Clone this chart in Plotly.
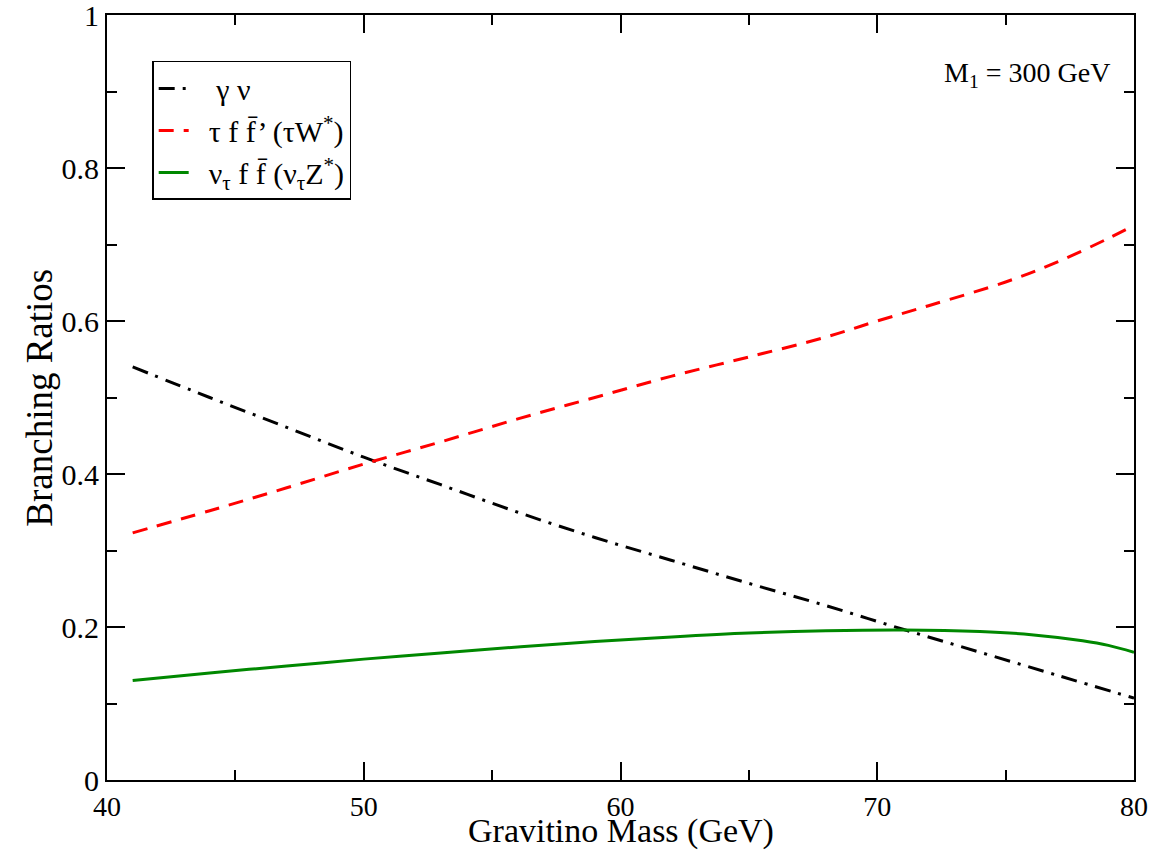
import plotly.graph_objects as go

# Gravitino mass (GeV)
mass_gamma = [41, 44, 47, 50, 53, 56, 59, 62, 65, 68, 71, 74, 77, 80]
br_gamma_nu = [0.540, 0.500, 0.461, 0.422, 0.386, 0.350, 0.317, 0.287, 0.257, 0.228, 0.197, 0.167, 0.137, 0.107]

mass_w = [41, 44, 47, 50, 53, 56, 59, 62, 65, 68, 70, 72, 75, 77, 79, 80]
br_tau_w = [0.323, 0.352, 0.382, 0.413, 0.442, 0.472, 0.500, 0.528, 0.553, 0.579, 0.600, 0.620, 0.651, 0.677, 0.708, 0.725]

mass_z = [41, 44, 47, 50, 53, 56, 59, 62, 65, 68, 71, 74, 76, 78, 79, 80]
br_nu_z = [0.130, 0.140, 0.149, 0.158, 0.166, 0.174, 0.181, 0.187, 0.192, 0.195, 0.196, 0.194, 0.190, 0.182, 0.176, 0.167]

NB = "\u00a0"
names = [
    NB * 3 + "γ ν",
    NB * 2 + "τ f" + NB + "f\u0304’ (τW<sup>*</sup>)",
    NB * 2 + "ν<sub>τ</sub> f" + NB + "f\u0304 (ν<sub>τ</sub>Z<sup>*</sup>)",
]
x_title = "Gravitino Mass (GeV)"
y_title = "Branching Ratios"
note = "M<sub>1</sub> = 300 GeV"

font = "Liberation Serif"
fig = go.Figure()
fig.add_trace(go.Scatter(x=mass_gamma, y=br_gamma_nu, mode="lines", name=names[0],
                         line=dict(color="black", width=3, dash="16px,8px,3px,8px"), line_shape="spline"))
fig.add_trace(go.Scatter(x=mass_w, y=br_tau_w, mode="lines", name=names[1],
                         line=dict(color="#ff0000", width=3, dash="15px,10px"), line_shape="spline"))
fig.add_trace(go.Scatter(x=mass_z, y=br_nu_z, mode="lines", name=names[2],
                         line=dict(color="#008800", width=3), line_shape="spline"))

axis_common = dict(showgrid=False, zeroline=False, showline=True, linecolor="black", linewidth=2,
                   mirror="ticks", ticks="inside", ticklen=18, tickwidth=1.5, tickcolor="black",
                   automargin=False, ticklabeloverflow="allow")

fig.update_xaxes(range=[40, 80], dtick=10, tick0=40,
                 tickfont=dict(family=font, size=28, color="black"),
                 minor=dict(ticks="inside", ticklen=10, dtick=5, tickcolor="black", tickwidth=1.5),
                 **axis_common)
fig.update_yaxes(range=[0, 1], dtick=0.2, tick0=0,
                 tickfont=dict(family=font, size=30, color="black"),
                 minor=dict(ticks="inside", ticklen=10, dtick=0.1, tickcolor="black", tickwidth=1.5),
                 **axis_common)

fig.add_annotation(text=x_title, xref="paper", yref="paper", x=0.5, y=-0.067,
                   xanchor="center", yanchor="middle", showarrow=False,
                   font=dict(family=font, size=34, color="black"))
fig.add_annotation(text=y_title, xref="paper", yref="paper", x=-0.066, y=0.5, textangle=-90,
                   xanchor="center", yanchor="middle", showarrow=False,
                   font=dict(family=font, size=37, color="black"))
fig.add_annotation(text=note, xref="paper", yref="paper", x=0.979, y=0.922,
                   xanchor="right", yanchor="middle", showarrow=False,
                   font=dict(family=font, size=28, color="black"))

fig.update_layout(
    width=1168, height=851,
    margin=dict(l=107, r=34, t=15, b=71),
    paper_bgcolor="white", plot_bgcolor="white",
    font=dict(family=font, color="black"),
    legend=dict(x=0.044, y=0.94, xanchor="left", yanchor="top",
                bordercolor="black", borderwidth=1.5, bgcolor="white",
                font=dict(family=font, size=30, color="black"),
                tracegroupgap=0, itemwidth=30),
    showlegend=True,
)

fig.write_html("out.html", config={"displayModeBar": False},
               post_script="document.body.style.margin='0';")
